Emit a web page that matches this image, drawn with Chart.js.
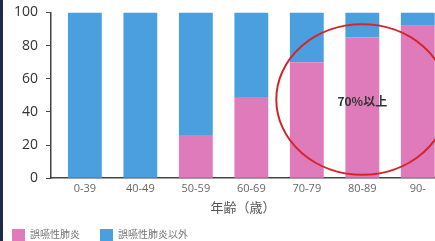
<!DOCTYPE html>
<html>
<head>
<meta charset="utf-8">
<script src="https://cdn.jsdelivr.net/npm/chart.js@4/dist/chart.umd.min.js"></script>
<style>
  html, body { margin: 0; padding: 0; background: #fff; overflow: hidden; }
  #wrap { position: relative; width: 435px; height: 241px; margin-top: -4px; }
  #edge { position: absolute; left: 0; top: 0; width: 3px; height: 241px; background: #1e2b45; z-index: 2; }
  #leyenda { position: absolute; left: 12px; top: 225px; font: 10px "Noto Sans CJK JP"; color: #777; white-space: nowrap; }
  #leyenda span.item { display: inline-block; margin-right: 20px; vertical-align: middle; }
  #leyenda i { display: inline-block; width: 13px; height: 13px; vertical-align: middle; margin-right: 5px; }
</style>
</head>
<body>
<div id="edge"></div>
<div id="wrap"><canvas id="chartEdad"></canvas></div>
<div id="leyenda"></div>
<script>
// grupos de edad
const edades = ['0-39', '40-49', '50-59', '60-69', '70-79', '80-89', '90-'];
// % neumonía por aspiración
const aspiracion = [0, 0, 26, 49, 70, 85, 92];
// % resto
const otros = [100, 100, 74, 51, 30, 15, 8];
const ticksY = [0, 20, 40, 60, 80, 100];

const colores = ['#e07bbb', '#4b9fdf'];
const nombres = ['誤嚥性肺炎', '誤嚥性肺炎以外'];

// leyenda en HTML
document.getElementById('leyenda').innerHTML = nombres
    .map((n, i) => `<span class="item"><i style="background:${colores[i]}"></i>${n}</span>`)
    .join('');

// elipse roja + texto
const circulo = {
    id: 'circulo',
    afterDatasetsDraw(chart) {
        const { ctx, scales: { x, y } } = chart;
        const paso = x.getPixelForValue(5) - x.getPixelForValue(4);
        const cx = x.getPixelForValue(5);
        const cy = y.getPixelForValue(47.5);
        const rx = paso * 1.55;
        const ry = y.getPixelForValue(0) - y.getPixelForValue(45.4);
        ctx.save();
        ctx.beginPath();
        ctx.ellipse(cx, cy, rx, ry, 0, 0, Math.PI * 2);
        ctx.strokeStyle = '#d3262b';
        ctx.lineWidth = 2;
        ctx.stroke();
        ctx.fillStyle = '#333';
        ctx.font = 'bold 12px "Noto Sans CJK JP"';
        ctx.textAlign = 'center';
        ctx.textBaseline = 'middle';
        ctx.fillText('70%以上', cx, y.getPixelForValue(46.3));
        ctx.restore();
    }
};

new Chart(document.getElementById('chartEdad'), {
    type: 'bar',
    data: {
        datasets: [{
            label: nombres[0],
            data: aspiracion.map((v, i) => ({ x: i, y: v })),
            backgroundColor: colores[0],
            categoryPercentage: 0.61,
            barPercentage: 1
        }, {
            label: nombres[1],
            data: otros.map((v, i) => ({ x: i, y: v })),
            backgroundColor: colores[1],
            categoryPercentage: 0.61,
            barPercentage: 1
        }]
    },
    options: {
        responsive: true,
        maintainAspectRatio: false,
        animation: false,
        layout: { padding: { left: 6, right: 0, top: 0, bottom: 22 } },
        plugins: {
            legend: { display: false },
            tooltip: { enabled: false }
        },
        scales: {
            x: {
                type: 'linear',
                stacked: true,
                offset: false,
                min: -0.61,
                max: 6.31,
                afterBuildTicks: axis => { axis.ticks = edades.map((e, i) => ({ value: i })); },
                grid: { display: false, drawTicks: false },
                border: { display: true, color: '#444', width: 1.5 },
                ticks: {
                    color: '#666',
                    padding: 4,
                    font: { size: 11, family: 'Open Sans' },
                    callback: v => edades[v]
                },
                title: {
                    display: true,
                    text: '年齢（歳）',
                    color: '#555',
                    padding: { top: 0, bottom: 0 },
                    font: { size: 13, family: '"Noto Sans CJK JP"' }
                }
            },
            y: {
                stacked: true,
                min: 0,
                max: 100,
                afterBuildTicks: axis => { axis.ticks = ticksY.map(v => ({ value: v })); },
                grid: { display: true, drawOnChartArea: false, drawTicks: true, tickLength: 5, color: '#444' },
                border: { display: true, color: '#444', width: 1.5 },
                ticks: { color: '#333', padding: 8, font: { size: 14, family: 'Open Sans' } }
            }
        }
    },
    plugins: [circulo]
});
</script>
</body>
</html>
